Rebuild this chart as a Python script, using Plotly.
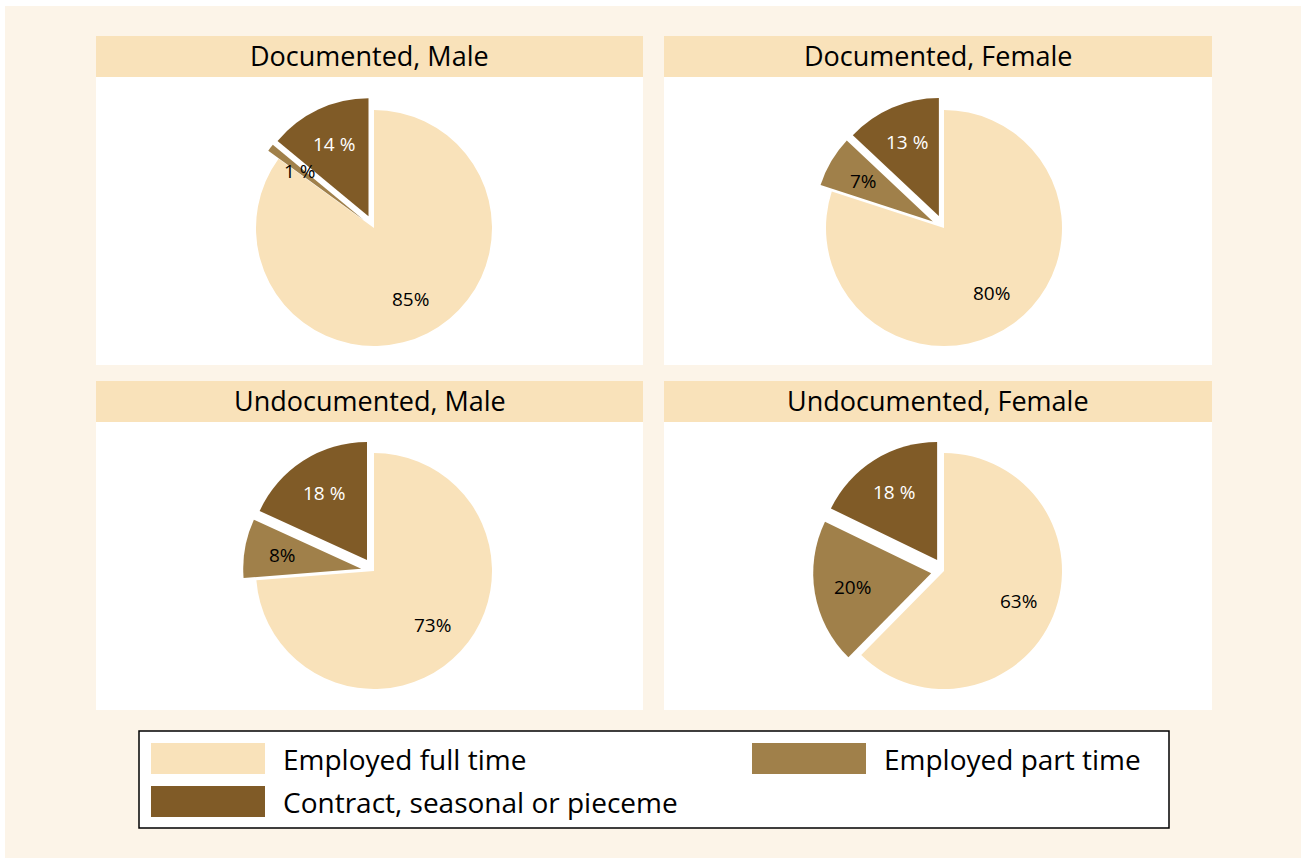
import math
import plotly.graph_objects as go

W, H = 1306, 863

# ---- data --------------------------------------------------------------------
panels = ["Documented, Male", "Documented, Female",
          "Undocumented, Male", "Undocumented, Female"]
categories = ["Employed full time", "Employed part time",
              "Contract, seasonal or pieceme"]
full_time = [85, 80, 73, 63]
part_time = [1, 7, 8, 20]
contract = [14, 13, 18, 18]
# label text as printed on the slices
full_lbl = ["85%", "80%", "73%", "63%"]
part_lbl = ["1 %", "7%", "8%", "20%"]
cont_lbl = ["14 %", "13 %", "18 %", "18 %"]

colors = ["#F9E2BA", "#A0804A", "#805B27"]
txt_colors = ["black", "black", "white"]
FONT = "Open Sans"


def px(x):
    return x / W


def py(y):
    return 1 - y / H


fig = go.Figure()

# panel boxes (left, right) x (title top, title bottom, panel bottom)
cols = [(96, 643), (664, 1212)]
rows = [(36, 77, 365), (381, 422, 710)]
pie_cx = [374, 944]
pie_cy = [228, 571]
R = 118
PULL = 0.11
pulls = [0, PULL, PULL]
LBL_R = 0.68  # label distance from slice tip, fraction of radius
half = R * (1 + PULL)

shapes = []
annos = []
# cream page background
shapes.append(dict(type="rect", xref="paper", yref="paper", layer="below",
                   x0=px(5), x1=px(1301), y0=py(858), y1=py(6),
                   fillcolor="#FCF4E8", line=dict(width=0)))

for i, name in enumerate(panels):
    r, c = divmod(i, 2)
    x0, x1 = cols[c]
    t0, t1, b = rows[r]
    shapes.append(dict(type="rect", xref="paper", yref="paper", layer="below",
                       x0=px(x0), x1=px(x1), y0=py(b), y1=py(t1),
                       fillcolor="white", line=dict(width=0)))
    shapes.append(dict(type="rect", xref="paper", yref="paper", layer="below",
                       x0=px(x0), x1=px(x1), y0=py(t1), y1=py(t0),
                       fillcolor=colors[0], line=dict(width=0)))
    annos.append(dict(text=name, xref="paper", yref="paper", showarrow=False,
                      x=px((x0 + x1) / 2), y=py((t0 + t1) / 2 - 1),
                      xanchor="center", yanchor="middle",
                      font=dict(family=FONT, size=27, color="black")))
    cx, cy = pie_cx[c], pie_cy[r]
    vals = [full_time[i], part_time[i], contract[i]]
    texts = [full_lbl[i], part_lbl[i], cont_lbl[i]]
    fig.add_trace(go.Pie(
        labels=categories,
        values=vals,
        textinfo="none",
        marker=dict(colors=colors, line=dict(width=0)),
        pull=pulls,
        sort=False,
        direction="clockwise",
        rotation=0,
        hoverinfo="label+percent",
        showlegend=False,
        domain=dict(x=[px(cx - half), px(cx + half)],
                    y=[py(cy + half), py(cy - half)]),
    ))
    # slice labels along each slice bisector (stata style)
    tot = sum(vals)
    cum = 0.0
    for v, t, tc, pl in zip(vals, texts, txt_colors, pulls):
        mid = (cum + v / 2) / tot * 2 * math.pi
        cum += v
        d = (pl + LBL_R) * R
        annos.append(dict(text=t, xref="paper", yref="paper", showarrow=False,
                          x=px(cx + d * math.sin(mid)),
                          y=py(cy - d * math.cos(mid)),
                          xanchor="center", yanchor="middle",
                          font=dict(family=FONT, size=19, color=tc)))

# legend box drawn by hand (large swatches)
shapes.append(dict(type="rect", xref="paper", yref="paper",
                   x0=px(139), x1=px(1169), y0=py(828), y1=py(731),
                   fillcolor="white", line=dict(color="black", width=1.5)))
leg_pos = [(151, 743), (752, 743), (151, 786)]
for (lx, ly), lab, col in zip(leg_pos, categories, colors):
    shapes.append(dict(type="rect", xref="paper", yref="paper",
                       x0=px(lx), x1=px(lx + 114), y0=py(ly + 31), y1=py(ly),
                       fillcolor=col, line=dict(width=0)))
    annos.append(dict(text=lab, xref="paper", yref="paper", showarrow=False,
                      x=px(lx + 130), y=py(ly + 16), xanchor="left",
                      yanchor="middle",
                      font=dict(family=FONT, size=28, color="black")))

fig.update_layout(
    width=W, height=H,
    margin=dict(l=0, r=0, t=0, b=0),
    paper_bgcolor="white",
    plot_bgcolor="white",
    shapes=shapes,
    annotations=annos,
    font=dict(family=FONT),
)

fig.write_html("out.html", config={"displayModeBar": False},
               post_script="document.body.style.margin='0';")
